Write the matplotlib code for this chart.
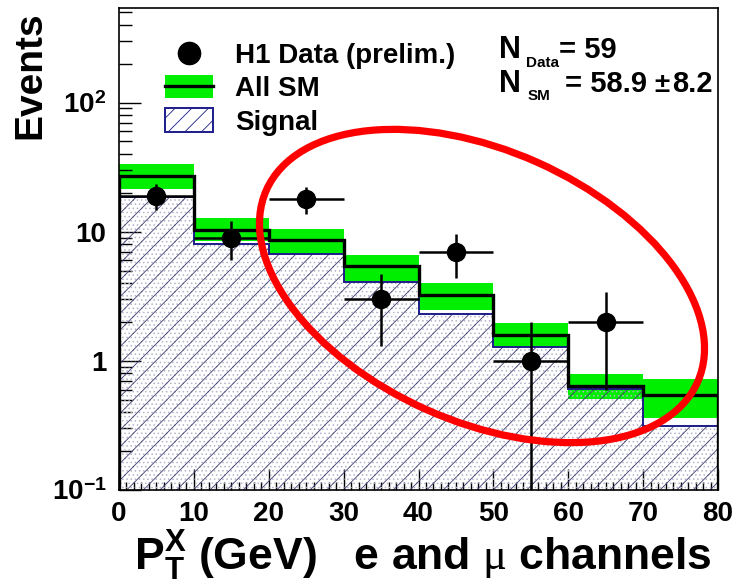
import matplotlib.pyplot as plt
import numpy as np
from matplotlib.lines import Line2D
from matplotlib.patches import Patch, Ellipse
from matplotlib.ticker import FixedLocator, FixedFormatter, NullFormatter, MultipleLocator, LogLocator

# bins in P_T^X (GeV)
edges = [0, 10, 20, 30, 40, 50, 60, 70, 80]

# H1 data (bins 0-70; no event in the last bin)
data = [19, 9, 18, 3, 7, 1, 2]
data_err = [4.4, 3.0, 4.2, 1.7, 2.6, 1.0, 1.4]

# Standard Model expectation and its uncertainty band
sm = [27.0, 10.4, 8.7, 5.43, 3.21, 1.59, 0.641, 0.546]
sm_up = [33.2, 12.7, 10.5, 6.6, 3.99, 1.98, 0.79, 0.726]
sm_low = [21.3, 8.4, 6.72, 4.18, 2.48, 1.28, 0.506, 0.36]

# signal contribution
signal = [18.5, 8.03, 6.72, 4.1, 2.31, 1.29, 0.604, 0.314]

ytick_vals = [0.1, 1, 10, 100]
ytick_labels = ["$10^{-1}$", "1", "10", "$10^{2}$"]

plt.rcParams["font.family"] = ["Liberation Sans", "DejaVu Sans"]
plt.rcParams["font.weight"] = "bold"
plt.rcParams["mathtext.fontset"] = "custom"
plt.rcParams["mathtext.rm"] = "Liberation Sans:bold"
plt.rcParams["mathtext.bf"] = "Liberation Sans:bold"
plt.rcParams["mathtext.it"] = "Liberation Serif:regular"
plt.rcParams["hatch.linewidth"] = 0.6

green = "#00ee00"
navy = "#1c1c8a"

W, H = 732, 587
fig = plt.figure(figsize=(W / 100, H / 100), dpi=100)
ax = fig.add_axes([119 / W, 97 / H, 599 / W, 482 / H])


def fpos(x, y):
    # pixel position (from top-left) -> figure fraction
    return x / W, 1 - y / H


# uncertainty band of the SM
ax.stairs(sm_up, edges, baseline=sm_low, fill=True, color=green, lw=0, zorder=1)
# signal: hatching over white
ax.stairs(signal, edges, baseline=1e-3, fill=True, facecolor="none",
          edgecolor="#b4b4cc", hatch="....", lw=0, zorder=2)
ax.stairs(signal, edges, baseline=1e-3, fill=True, facecolor="none",
          edgecolor="#3a3a6e", hatch="//", lw=0, zorder=2)
ax.stairs(signal, edges, color=navy, lw=1.4, zorder=3)
ax.stairs(sm, edges, color="black", lw=2.4, zorder=4)

centers = [(edges[i] + edges[i + 1]) / 2 for i in range(len(data))]
halfw = [(edges[i + 1] - edges[i]) / 2 for i in range(len(data))]
ax.errorbar(centers, data, yerr=data_err, xerr=halfw, fmt="o", color="black",
            markersize=13, elinewidth=1.8, capsize=0, zorder=5)

ax.set_yscale("log")
ax.set_xlim(0, 80)
ax.set_ylim(0.1, 540)

ax.xaxis.set_major_locator(MultipleLocator(10))
ax.xaxis.set_minor_locator(MultipleLocator(1))
ax.yaxis.set_major_locator(FixedLocator(ytick_vals))
ax.yaxis.set_major_formatter(FixedFormatter(ytick_labels))
ax.yaxis.set_minor_locator(LogLocator(base=10, subs=np.arange(2, 10)))
ax.yaxis.set_minor_formatter(NullFormatter())

ax.tick_params(axis="both", which="both", direction="in", width=1.0, labelsize=20)
ax.tick_params(axis="x", which="major", length=15, pad=8)
ax.tick_params(axis="x", which="minor", length=6)
ax.tick_params(axis="y", which="major", length=16, pad=9)
ax.tick_params(axis="y", which="minor", length=9)
for s in ax.spines.values():
    s.set_linewidth(1.2)

ax.set_ylabel("Events", fontsize=28, fontweight="bold", rotation=90,
              rotation_mode="default", ha="center", va="top")
ax.yaxis.set_label_coords(-0.1486, 0.992)
ax.set_xlabel(r"$\mathrm{P}_\mathrm{T}^\mathrm{X}$ (GeV)   e and $\mu$ channels",
              fontsize=32, fontweight="bold", ha="right", va="baseline")
ax.xaxis.set_label_coords((712 - 119) / 599, (490 - 570) / 482)

handles = [
    Line2D([], [], marker="o", color="black", ls="none", markersize=16),
    (Patch(facecolor=green, edgecolor="none"), Line2D([], [], color="black", lw=2.4)),
    Patch(facecolor="white", edgecolor=navy, hatch="//", lw=1.4),
]
labels = ["H1 Data (prelim.)", "All SM", "Signal"]
ax.legend(handles, labels, loc="upper left", bbox_to_anchor=fpos(165, 42),
          bbox_transform=fig.transFigure, frameon=False, fontsize=20,
          borderpad=0, borderaxespad=0, handlelength=1.73, handleheight=0.9,
          handletextpad=0.8, labelspacing=0.22)

# event counts
fig.text(*fpos(499, 58), "N", fontsize=22, va="baseline")
fig.text(*fpos(526, 67), "Data", fontsize=11, va="baseline")
fig.text(*fpos(559, 58), "= 59", fontsize=21, va="baseline")
fig.text(*fpos(499, 92), "N", fontsize=22, va="baseline")
fig.text(*fpos(528, 100), "SM", fontsize=11, va="baseline")
fig.text(*fpos(565, 92), "= 58.9", fontsize=21, va="baseline")
fig.text(*fpos(654, 92), "\u00b1", fontsize=20, va="baseline")
fig.text(*fpos(672, 92), "8.2", fontsize=21, va="baseline")

# red ellipse highlighting the high-P_T region
ell = Ellipse((4.82, (H - 286) / 100), 4.72, 2.71, angle=-24,
              transform=fig.dpi_scale_trans, fill=False, ec="red", lw=5.2, zorder=10)
fig.add_artist(ell)

fig.savefig("out.png", dpi=100)
